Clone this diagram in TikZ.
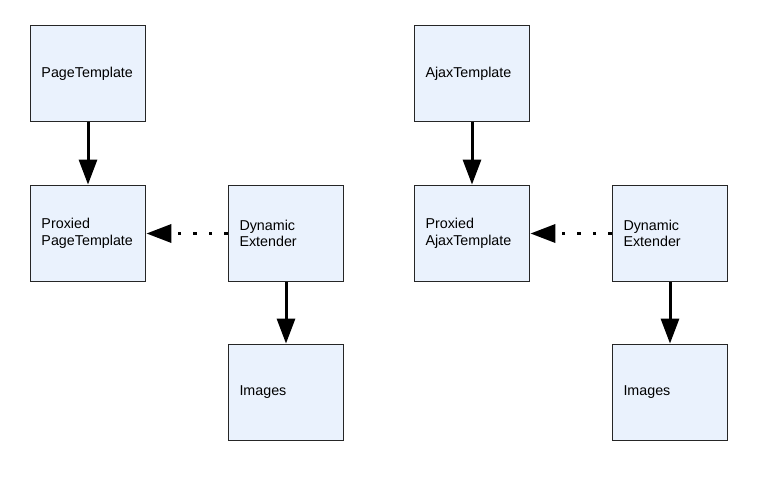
\documentclass[tikz,border=0pt]{standalone}
\usepackage{fontspec}
\setmainfont{Liberation Sans}
\usetikzlibrary{arrows.meta}
\definecolor{boxfill}{HTML}{EAF2FD}
\definecolor{boxline}{HTML}{262626}
\begin{document}
\begin{tikzpicture}
      [
      x=1pt,y=-1pt,
      box/.style={rectangle,draw=boxline,fill=boxfill,line width=1.8pt,inner sep=0pt,minimum width=115pt,minimum height=96pt,text width=93pt,align=left,font=\fontsize{14.3}{16.7}\selectfont},
      link/.style={line width=3pt,-{Triangle[length=25pt,width=18pt]}},
      extend/.style={line width=3.5pt,dash pattern=on 3.5pt off 12pt,-{Triangle[length=25pt,width=18pt]}}
      ]
      \useasboundingbox (0,0) rectangle (772,479);
      \node (pt) at (88,73.5) [box] {PageTemplate};
      \node (ppt) at (88,233.5) [box] {Proxied\\PageTemplate};
      \node (de1) at (286,233.5) [box] {Dynamic\\Extender};
      \node (img1) at (286,392.5) [box] {Images};
      \node (at) at (472,73.5) [box] {AjaxTemplate};
      \node (pat) at (472,233.5) [box] {Proxied\\AjaxTemplate};
      \node (de2) at (670,233.5) [box] {Dynamic\\Extender};
      \node (img2) at (670,392.5) [box] {Images};
      \draw [link] (pt) to (ppt);
      \draw [extend] (de1) to (ppt);
      \draw [link] (de1) to (img1);
      \draw [link] (at) to (pat);
      \draw [extend] (de2) to (pat);
      \draw [link] (de2) to (img2);
    \end{tikzpicture}
\end{document}
